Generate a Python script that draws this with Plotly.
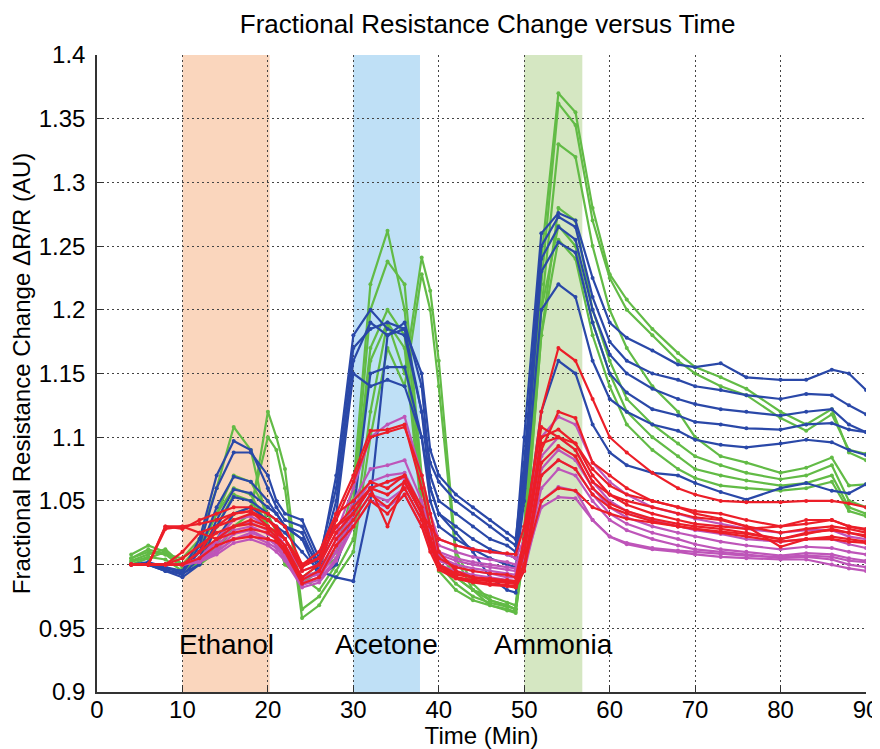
import plotly.graph_objects as go

# %% DATA
# sample times (min) shared by every sensor trace
time_min = [4, 6, 8, 10, 12, 14, 16, 18, 20, 21, 22, 24, 26, 28, 30, 32, 34, 36, 38, 39, 40, 42,
            44, 46, 48, 49, 50, 52, 54, 56, 58, 60, 62, 65, 68, 70, 73, 76, 80, 83, 86, 88, 90]

green_lines = [
    [1.005, 1.012, 1.008, 1.005, 1.02, 1.06, 1.108, 1.09, 1.03, 1.02, 1.005, 0.985, 0.995, 1.01, 1.06,
     1.22, 1.262, 1.20, 1.06, 1.03, 1.01, 0.99, 0.98, 0.975, 0.97, 0.968, 1.03, 1.24, 1.37, 1.355,
     1.28, 1.228, 1.208, 1.185, 1.166, 1.155, 1.147, 1.138, 1.12, 1.11, 1.122, 1.088, 1.082],
    [1.008, 1.015, 1.01, 1.0, 1.015, 1.04, 1.07, 1.065, 1.04, 1.025, 1.0, 0.99, 0.995, 1.005, 1.05,
     1.20, 1.238, 1.22, 1.07, 1.03, 1.01, 0.99, 0.98, 0.972, 0.968, 0.965, 1.025, 1.22, 1.362, 1.345,
     1.27, 1.225, 1.2, 1.18, 1.16, 1.15, 1.14, 1.133, 1.115, 1.105, 1.118, 1.09, 1.087],
    [1.003, 1.008, 1.012, 1.0, 1.0, 1.01, 1.03, 1.04, 1.12, 1.10, 1.075, 0.965, 0.975, 0.995, 1.02,
     1.12, 1.19, 1.15, 1.241, 1.215, 1.16, 1.01, 0.985, 0.972, 0.968, 0.965, 1.02, 1.20, 1.33, 1.32,
     1.25, 1.20, 1.17, 1.14, 1.12, 1.10, 1.085, 1.08, 1.072, 1.076, 1.084, 1.062, 1.063],
    [1.005, 1.01, 1.008, 0.998, 1.0, 1.015, 1.04, 1.045, 1.10, 1.09, 1.06, 0.958, 0.968, 0.99, 1.01,
     1.10, 1.17, 1.14, 1.228, 1.20, 1.14, 1.005, 0.98, 0.968, 0.964, 0.962, 1.015, 1.18, 1.28, 1.27,
     1.20, 1.16, 1.13, 1.11, 1.095, 1.085, 1.078, 1.072, 1.067, 1.07, 1.078, 1.05, 1.045],
    [1.0, 1.005, 1.01, 1.0, 1.01, 1.04, 1.06, 1.055, 1.03, 1.02, 1.0, 0.99, 1.0, 1.01, 1.05,
     1.17, 1.20, 1.18, 1.05, 1.02, 1.0, 0.985, 0.975, 0.97, 0.967, 0.965, 1.02, 1.20, 1.266, 1.25,
     1.19, 1.15, 1.12, 1.10, 1.085, 1.075, 1.07, 1.066, 1.062, 1.064, 1.07, 1.045, 1.04],
    [1.002, 1.006, 1.004, 0.995, 1.005, 1.03, 1.055, 1.05, 1.03, 1.02, 1.005, 0.99, 0.98, 1.0, 1.04,
     1.16, 1.19, 1.17, 1.04, 1.015, 0.995, 0.98, 0.972, 0.968, 0.965, 0.963, 1.01, 1.18, 1.255, 1.24,
     1.18, 1.14, 1.11, 1.09, 1.075, 1.068, 1.062, 1.06, 1.058, 1.06, 1.065, 1.042, 1.038],
]

blue_lines = [
    [1.0, 1.0, 0.998, 0.995, 1.02, 1.07, 1.097, 1.09, 1.06, 1.045, 1.035, 1.03, 1.0, 1.07, 1.18,
     1.2, 1.185, 1.18, 1.12, 1.08, 1.065, 1.05, 1.04, 1.03, 1.02, 1.015, 1.1, 1.26, 1.276, 1.27,
     1.225, 1.19, 1.178, 1.168, 1.157, 1.155, 1.158, 1.147, 1.145, 1.145, 1.153, 1.15, 1.137],
    [1.0, 1.002, 0.998, 0.993, 1.015, 1.06, 1.088, 1.088, 1.07, 1.05, 1.04, 1.035, 1.005, 1.06, 1.17,
     1.185, 1.19, 1.185, 1.15, 1.09, 1.07, 1.055, 1.045, 1.035, 1.025, 1.02, 1.08, 1.25, 1.273, 1.265,
     1.21, 1.175, 1.16, 1.15, 1.145, 1.14, 1.137, 1.133, 1.13, 1.134, 1.133, 1.125, 1.118],
    [1.0, 1.0, 0.997, 0.995, 1.01, 1.045, 1.069, 1.065, 1.05, 1.04, 1.03, 1.02, 1.0, 1.05, 1.16,
     1.19, 1.18, 1.19, 1.14, 1.07, 1.05, 1.04, 1.03, 1.02, 1.015, 1.01, 1.07, 1.24, 1.265, 1.255,
     1.2, 1.165, 1.15, 1.138, 1.13, 1.126, 1.122, 1.12, 1.117, 1.12, 1.122, 1.11, 1.104],
    [1.0, 1.0, 0.996, 0.992, 1.005, 1.035, 1.059, 1.056, 1.045, 1.04, 1.03, 1.025, 0.995, 1.04, 1.15,
     1.14, 1.145, 1.14, 1.10, 1.06, 1.04, 1.03, 1.02, 1.012, 1.008, 1.005, 1.06, 1.23, 1.253, 1.245,
     1.19, 1.15, 1.135, 1.122, 1.117, 1.112, 1.11, 1.107, 1.106, 1.11, 1.111, 1.106, 1.104],
    [1.0, 1.0, 0.995, 0.99, 1.0, 1.03, 1.053, 1.05, 1.04, 1.035, 1.03, 1.02, 0.99, 1.0, 1.04,
     1.15, 1.155, 1.155, 1.10, 1.05, 1.03, 1.02, 1.012, 1.005, 1.0, 0.998, 1.05, 1.20, 1.22, 1.21,
     1.16, 1.13, 1.12, 1.11, 1.105, 1.098, 1.094, 1.092, 1.095, 1.098, 1.096, 1.09, 1.086],
    [1.0, 1.0, 0.995, 0.993, 1.0, 1.02, 1.04, 1.045, 1.035, 1.03, 1.025, 1.01, 0.995, 0.99, 0.987,
     1.05, 1.18, 1.185, 1.12, 1.06, 1.04, 1.025, 1.01, 0.99, 0.98, 0.978, 1.02, 1.12, 1.16, 1.15,
     1.11, 1.088, 1.078, 1.072, 1.07, 1.064, 1.057, 1.051, 1.06, 1.064, 1.058, 1.056, 1.063],
]

magenta_lines = [
    [1.0, 1.0, 1.0, 1.0, 1.005, 1.02, 1.035, 1.038, 1.03, 1.025, 1.015, 0.995, 1.0, 1.025, 1.06,
     1.1, 1.11, 1.116, 1.07, 1.04, 1.02, 1.015, 1.012, 1.01, 1.008, 1.005, 1.02, 1.1, 1.116, 1.11,
     1.08, 1.065, 1.055, 1.045, 1.04, 1.036, 1.032, 1.028, 1.025, 1.027, 1.027, 1.022, 1.02],
    [1.0, 1.0, 1.0, 1.0, 1.005, 1.018, 1.03, 1.033, 1.027, 1.022, 1.012, 0.99, 0.995, 1.02, 1.05,
     1.075, 1.078, 1.082, 1.05, 1.03, 1.015, 1.01, 1.006, 1.004, 1.002, 1.0, 1.015, 1.085, 1.10, 1.09,
     1.065, 1.05, 1.042, 1.035, 1.03, 1.027, 1.024, 1.02, 1.018, 1.02, 1.02, 1.016, 1.013],
    [1.0, 1.0, 1.0, 1.0, 1.003, 1.015, 1.027, 1.03, 1.024, 1.02, 1.01, 0.988, 0.993, 1.015, 1.045,
     1.065, 1.07, 1.072, 1.045, 1.025, 1.01, 1.005, 1.002, 1.0, 0.998, 0.997, 1.01, 1.075, 1.09, 1.082,
     1.06, 1.045, 1.037, 1.03, 1.025, 1.022, 1.018, 1.015, 1.012, 1.014, 1.013, 1.01, 1.008],
    [1.0, 1.0, 1.0, 1.0, 1.003, 1.012, 1.024, 1.027, 1.02, 1.016, 1.007, 0.986, 0.99, 1.01, 1.04,
     1.06, 1.055, 1.065, 1.04, 1.02, 1.006, 1.0, 0.997, 0.995, 0.993, 0.992, 1.005, 1.07, 1.082, 1.075,
     1.055, 1.04, 1.032, 1.025, 1.02, 1.016, 1.012, 1.01, 1.007, 1.009, 1.008, 1.005, 1.003],
    [1.0, 1.0, 1.0, 1.0, 1.002, 1.01, 1.02, 1.023, 1.017, 1.013, 1.005, 0.984, 0.988, 1.005, 1.035,
     1.055, 1.05, 1.06, 1.035, 1.015, 1.003, 0.998, 0.995, 0.993, 0.99, 0.99, 1.0, 1.06, 1.075, 1.07,
     1.05, 1.035, 1.027, 1.02, 1.015, 1.012, 1.01, 1.008, 1.005, 1.006, 1.004, 1.0, 0.998],
    [1.0, 1.0, 1.0, 1.0, 1.002, 1.008, 1.017, 1.02, 1.015, 1.01, 1.003, 0.982, 0.986, 1.003, 1.03,
     1.05, 1.045, 1.055, 1.03, 1.012, 1.0, 0.995, 0.992, 0.99, 0.988, 0.987, 0.995, 1.05, 1.061, 1.058,
     1.035, 1.022, 1.016, 1.012, 1.01, 1.008, 1.006, 1.005, 1.004, 1.004, 1.0, 0.997, 0.995],
    [1.0, 1.0, 1.0, 1.0, 1.002, 1.01, 1.02, 1.025, 1.02, 1.015, 1.008, 0.99, 0.992, 1.01, 1.04,
     1.06, 1.065, 1.068, 1.04, 1.02, 1.008, 1.003, 1.0, 0.998, 0.996, 0.995, 1.0, 1.045, 1.053, 1.052,
     1.035, 1.022, 1.017, 1.013, 1.011, 1.01, 1.008, 1.007, 1.006, 1.007, 1.006, 1.003, 1.002],
]

red_lines = [
    [1.0, 1.0, 1.03, 1.028, 1.035, 1.04, 1.045, 1.045, 1.04, 1.035, 1.03, 1.0, 1.005, 1.04, 1.07,
     1.105, 1.106, 1.11, 1.06, 1.03, 1.0, 0.99, 0.988, 0.987, 0.986, 0.985, 1.02, 1.12, 1.17, 1.16,
     1.13, 1.1, 1.088, 1.072, 1.06, 1.055, 1.05, 1.049, 1.049, 1.05, 1.05, 1.048, 1.045],
    [1.0, 1.0, 1.028, 1.03, 1.032, 1.035, 1.04, 1.042, 1.035, 1.03, 1.02, 0.995, 1.0, 1.035, 1.065,
     1.1, 1.104, 1.108, 1.07, 1.04, 1.01, 0.995, 0.99, 0.988, 0.987, 0.986, 1.01, 1.09, 1.12, 1.115,
     1.08, 1.07, 1.06, 1.05, 1.045, 1.042, 1.04, 1.035, 1.03, 1.032, 1.035, 1.03, 1.028],
    [1.0, 1.0, 1.0, 1.01, 1.025, 1.03, 1.035, 1.04, 1.035, 1.028, 1.02, 1.0, 1.005, 1.03, 1.04,
     1.06, 1.065, 1.07, 1.04, 1.03, 1.02, 1.015, 1.012, 1.01, 1.009, 1.008, 1.03, 1.108, 1.1, 1.09,
     1.065, 1.055, 1.05, 1.045, 1.04, 1.037, 1.035, 1.03, 1.014, 1.02, 1.02, 1.018, 1.017],
    [1.0, 1.0, 1.0, 1.005, 1.015, 1.025, 1.03, 1.032, 1.028, 1.022, 1.015, 0.99, 1.0, 1.025, 1.04,
     1.06, 1.03, 1.065, 1.04, 1.02, 1.0, 0.993, 0.99, 0.988, 0.986, 0.985, 1.01, 1.1, 1.106, 1.095,
     1.07, 1.055, 1.047, 1.04, 1.035, 1.032, 1.03, 1.028, 1.03, 1.035, 1.035, 1.03, 1.027],
    [1.0, 1.0, 1.0, 1.0, 1.01, 1.02, 1.025, 1.028, 1.025, 1.02, 1.012, 0.988, 0.995, 1.02, 1.035,
     1.055, 1.045, 1.06, 1.035, 1.015, 0.998, 0.99, 0.987, 0.985, 0.984, 0.983, 1.0, 1.08, 1.093, 1.085,
     1.06, 1.048, 1.042, 1.036, 1.032, 1.03, 1.028, 1.025, 1.02, 1.025, 1.027, 1.025, 1.023],
    [1.0, 1.0, 1.0, 1.0, 1.005, 1.015, 1.02, 1.022, 1.02, 1.018, 1.01, 0.985, 0.99, 1.015, 1.03,
     1.05, 1.04, 1.055, 1.03, 1.01, 0.996, 0.989, 0.986, 0.984, 0.983, 0.982, 0.995, 1.07, 1.082, 1.075,
     1.055, 1.045, 1.04, 1.034, 1.03, 1.028, 1.025, 1.022, 1.018, 1.02, 1.022, 1.02, 1.018],
    [1.0, 1.0, 1.0, 1.0, 1.01, 1.03, 1.04, 1.042, 1.03, 1.025, 1.02, 1.0, 1.01, 1.04, 1.05,
     1.065, 1.06, 1.07, 1.045, 1.02, 1.0, 0.992, 0.99, 0.989, 0.988, 0.987, 1.0, 1.05, 1.06, 1.058,
     1.045, 1.04, 1.036, 1.033, 1.03, 1.028, 1.026, 1.024, 1.02, 1.024, 1.028, 1.025, 1.022],
    [1.0, 1.0, 1.03, 1.03, 1.025, 1.02, 1.03, 1.035, 1.03, 1.025, 1.02, 0.998, 1.005, 1.03, 1.045,
     1.06, 1.055, 1.065, 1.04, 1.02, 1.005, 0.998, 0.995, 0.993, 0.992, 0.99, 1.02, 1.095, 1.10, 1.095,
     1.075, 1.062, 1.055, 1.05, 1.045, 1.04, 1.036, 1.03, 1.025, 1.028, 1.03, 1.028, 1.025],
]

# gas exposure windows (min)
gases = ["Ethanol", "Acetone", "Ammonia"]
gas_start = [10, 30, 50]
gas_end = [20.2, 37.8, 56.8]

# %% FIGURE
FONT = "Liberation Sans, Arial, sans-serif"
fig = go.Figure()

groups = [
    (green_lines, "rgb(98,187,70)"),
    (blue_lines, "rgb(42,72,168)"),
    (magenta_lines, "rgb(190,85,185)"),
    (red_lines, "rgb(236,30,40)"),
]
for lines, color in groups:
    for y in lines:
        fig.add_trace(
            go.Scatter(
                x=time_min,
                y=y,
                mode="lines+markers",
                line=dict(color=color, width=2.2),
                marker=dict(color=color, size=4),
                showlegend=False,
                hoverinfo="skip",
            )
        )

shade_colors = ["#FAD6BD", "#BFE0F6", "#D5E7C2"]
for name, x0, x1, c in zip(gases, gas_start, gas_end, shade_colors):
    fig.add_shape(type="rect", xref="x", yref="y", x0=x0, x1=x1, y0=0.9, y1=1.4,
                  fillcolor=c, line_width=0, layer="below")
    fig.add_annotation(x=(x0 + x1) / 2, y=0.937, text=name, showarrow=False,
                       font=dict(family=FONT, size=28, color="black"))

axis_style = dict(
    showgrid=True,
    gridcolor="#444",
    griddash="2px,3px",
    gridwidth=1,
    showline=True,
    linecolor="#333",
    linewidth=1.5,
    ticks="inside",
    ticklen=7,
    tickcolor="#333",
    zeroline=False,
    automargin=False,
    tickfont=dict(family=FONT, size=24, color="black"),
)

# the page body adds an 8 px offset, so the figure is sized to fit the window
fig.update_layout(
    width=872,
    height=741,
    margin=dict(l=89, r=14, t=47, b=57),
    paper_bgcolor="white",
    plot_bgcolor="white",
    font=dict(family=FONT, color="black"),
    title=dict(text="Fractional Resistance Change versus Time", x=0.508, xref="paper", xanchor="center",
               y=0.979, yanchor="middle", font=dict(family=FONT, size=26, color="black")),
    xaxis=dict(range=[0, 90], dtick=10, ticklabelstandoff=-5,
               title=dict(text="Time (Min)", font=dict(family=FONT, size=24), standoff=2),
               **axis_style),
    yaxis=dict(range=[0.9, 1.4], dtick=0.05, ticklabelstandoff=5,
               title=dict(text="Fractional Resistance Change ΔR/R (AU)", font=dict(family=FONT, size=24),
                          standoff=2),
               **axis_style),
)

fig.write_html("out.html")
